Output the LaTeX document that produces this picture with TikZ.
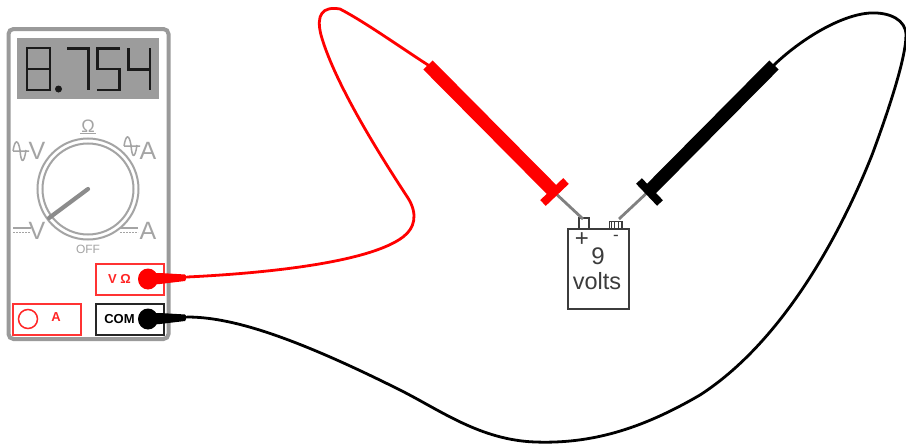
\documentclass[tikz,border=0pt]{standalone}
\usepackage{fontspec}
\setmainfont{Liberation Sans}
\usetikzlibrary{calc}
\definecolor{dialgray}{HTML}{A4A4A4}
\definecolor{casegray}{HTML}{9A9A9A}
\definecolor{lcd}{HTML}{9C9C9C}
\definecolor{batgray}{HTML}{3C3C3C}
\definecolor{segblk}{HTML}{1A1A1A}
\tikzset{
 jackbox/.style={draw,line width=1.5pt,minimum width=68pt,minimum height=31pt,inner sep=0pt,fill=white},
 seg/.style={draw=segblk,line width=2.1pt,line cap=butt,line join=miter},
 dialtxt/.style={text=dialgray,inner sep=0pt,font=\fontsize{25}{25}\selectfont},
 wire/.style={line width=2.8pt,line cap=round,line join=round},
 handle/.style={line width=13pt,line cap=butt},
 guard/.style={line width=8pt,line cap=butt},
 tip/.style={draw=gray,line width=2.8pt},
 batbox/.style={draw=batgray,line width=1.4pt,inner sep=0pt,fill=white},
 battxt/.style={text=batgray,inner sep=0pt,font=\fontsize{24}{24}\selectfont}
}
\begin{document}
\begin{tikzpicture}[x=1pt,y=-1pt]
\useasboundingbox (0,0) rectangle (906,447);
% meter
\node[draw=casegray,line width=4pt,rounded corners=5pt,fill=white,minimum width=160pt,minimum height=310pt,inner sep=0pt] (meter) at (88.5,184) {};
\node[fill=lcd,minimum width=142pt,minimum height=61pt,inner sep=0pt] (display) at (88,68.5) {};
% digits
\draw[seg] (27,48) rectangle (50,90) (27,69) -- (50,69);
\fill[segblk] (58.5,89) circle (3.5);
\draw[seg] (67,48.5) -- (88.5,48.5) -- (88.5,90);
\draw[seg] (120,48.5) -- (97.5,48.5) -- (97.5,69) -- (119.5,69) -- (119.5,90) -- (97,90);
\draw[seg] (128.5,48) -- (128.5,69.5) -- (150,69.5) (150,48) -- (150,90);
% dial
\node[circle,draw=dialgray,line width=2pt,minimum size=101pt,inner sep=0pt] (dial) at (88,189) {};
\node[circle,draw=dialgray,line width=2pt,minimum size=91pt,inner sep=0pt] (dialin) at (88,189) {};
\coordinate (needletip) at (49,218);
\draw[draw=gray!90,line width=4.2pt,line cap=round] (dial.center) -- (needletip);
\node[dialtxt,font=\fontsize{18}{18}\selectfont] (ohm) at (88,126) {Ω};
\draw[dialgray,line width=1.2pt] (80,133.5) -- (96,133.5);
\node[dialtxt] (vac) at (37,151) {V};
\node[dialtxt] (aac) at (148,151) {A};
\node[dialtxt] (vdc) at (37,231) {V};
\node[dialtxt] (adc) at (148,231) {A};
\node[text=dialgray,inner sep=0pt,font=\fontsize{12}{12}\selectfont] (off) at (88,249) {OFF};
\draw[dialgray,line width=1.5pt,line join=round] (13,151) .. controls (15,139) and (18,139) .. (20,150) .. controls (21,164) and (24,164) .. (26,150) (13,151) -- (29,151);
\draw[dialgray,line width=1.5pt,line join=round] (124,146) .. controls (126,134) and (129,134) .. (131,145) .. controls (132,159) and (135,159) .. (137,145) (124,146) -- (140,146);
\draw[dialgray,line width=1.3pt] (13,228) -- (31,228);
\draw[dialgray,line width=1.3pt,dash pattern=on 2pt off 1pt] (13,232.5) -- (31,232.5);
\draw[dialgray,line width=1.3pt] (120,228) -- (138,228);
\draw[dialgray,line width=1.3pt,dash pattern=on 2pt off 1pt] (120,232.5) -- (138,232.5);
% jacks
\node[jackbox,draw=red!80!white] (vjack) at (130,279.5) {};
\node[jackbox,draw=red!80!white] (ajack) at (47,319.5) {};
\node[jackbox,draw=black!85] (comjack) at (130,319.5) {};
\node[circle,draw=red!85!white,line width=1.5pt,minimum size=19pt,inner sep=0pt] (acirc) at (28,319) {};
\node[text=red!85!white,inner sep=0pt,font=\bfseries\fontsize{13}{13}\selectfont] (alab) at (56,317) {A};
\node[text=red!85!white,inner sep=0pt,font=\bfseries\fontsize{13}{13}\selectfont] (vlab) at (119.5,279) {V Ω};
\node[text=black,inner sep=0pt,font=\bfseries\fontsize{13}{13}\selectfont] (comlab) at (119.5,319) {COM};
% plugs
\coordinate (redplug) at (148,279);
\coordinate (blkplug) at (148,319);
\coordinate (redend) at (187,277);
\coordinate (blkend) at (187,317);
\fill[red] (redplug) ellipse (10 and 10.5);
\fill[red] (148,273) -- (160,273) -- (185,274.5) -- (redend) -- (185,281) -- (160,284) -- (148,285) -- cycle;
\fill[black] (blkplug) ellipse (10 and 10.5);
\fill[black] (148,313) -- (160,313) -- (185,314.5) -- (blkend) -- (185,321) -- (160,324) -- (148,325) -- cycle;
% probes
\coordinate (redh1) at (428,65);
\coordinate (redh2) at (553,191);
\coordinate (blkh1) at (774,65);
\coordinate (blkh2) at (650,190);
% wires
\draw[red,wire] (redend) .. controls (270,273) and (370,262) .. (403,237) .. controls (415,228) and (418,214) .. (408,198) .. controls (385,163) and (335,85) .. (321,35) .. controls (316,15) and (322,6) .. (340,9) .. controls (365,22) and (400,47) .. (redh1);
\draw[black,wire] (blkend) .. controls (230,317) and (290,335) .. (400,390) .. controls (440,410) and (480,440) .. (535,442) .. controls (590,444) and (640,430) .. (700,395) .. controls (770,350) and (830,260) .. (872,155) .. controls (885,120) and (906,60) .. (906,35) .. controls (906,20) and (890,12) .. (870,13) .. controls (840,15) and (800,40) .. (blkh1);
% battery
\node[batbox,minimum width=61pt,minimum height=80pt] (bat) at (598.5,269) {};
\node[batbox,minimum width=10pt,minimum height=11pt] (pos) at (584,223.5) {};
\node[batbox,minimum width=13pt,minimum height=7pt] (neg) at (616,225) {};
\draw[batgray,line width=.9pt] (611,221.5) -- (611,228) (614.5,221.5) -- (614.5,228) (618,221.5) -- (618,228) (621,221.5) -- (621,228);
\node[battxt] (plus) at (582,240) {+};
\node[battxt,font=\fontsize{17}{17}\selectfont] (minus) at (616,238) {-};
\node[battxt] (nine) at (598,256) {9};
\node[battxt,font=\fontsize{23.5}{23.5}\selectfont] (volts) at (597,281) {volts};
\coordinate (redtip) at (583,219);
\coordinate (blktip) at (619,219);
\draw[tip] (redh2) -- (redtip);
\draw[tip] (blkh2) -- (blktip);
\draw[red,handle] (redh1) -- (redh2);
\draw[black,handle] (blkh1) -- (blkh2);
\draw[red,guard] (543,203) -- (566,181);
\draw[black,guard] (639,181) -- (660,203);
\end{tikzpicture}
\end{document}
